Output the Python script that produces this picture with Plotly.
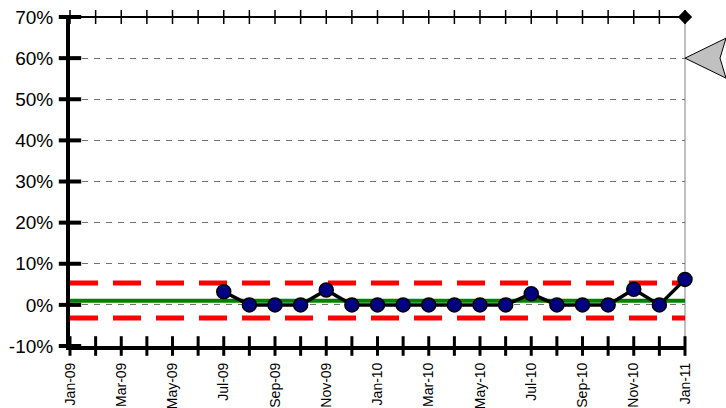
import plotly.graph_objects as go

months = ["Jan-09", "Feb-09", "Mar-09", "Apr-09", "May-09", "Jun-09", "Jul-09", "Aug-09",
          "Sep-09", "Oct-09", "Nov-09", "Dec-09", "Jan-10", "Feb-10", "Mar-10", "Apr-10",
          "May-10", "Jun-10", "Jul-10", "Aug-10", "Sep-10", "Oct-10", "Nov-10", "Dec-10", "Jan-11"]
data_months = months[6:]
values = [3.2, 0, 0, 0, 3.6, 0, 0, 0, 0, 0, 0, 0, 2.7, 0, 0, 0, 3.8, 0, 6.2]
center = 1.0
ucl = 5.3
lcl = -3.2
y_ticks = [-10, 0, 10, 20, 30, 40, 50, 60, 70]
y_labels = ["-10%", "0%", "10%", "20%", "30%", "40%", "50%", "60%", "70%"]
y_min, y_max = -10, 70

W, H = 726, 408
ml, mr, mt, mb = 70, 41, 17, 62
pw, ph = W - ml - mr, H - mt - mb

fig = go.Figure()

# control limits
for val, col, dash, wd in [(ucl, "#ff0000", "28px,15px", 5), (lcl, "#ff0000", "28px,15px", 5),
                           (center, "#008000", "solid", 4)]:
    fig.add_trace(go.Scatter(x=months, y=[val] * len(months), mode="lines",
                             line=dict(color=col, width=wd, dash=dash),
                             hoverinfo="skip"))

# data
fig.add_trace(go.Scatter(x=data_months, y=values, mode="lines+markers",
                         line=dict(color="black", width=3.5),
                         marker=dict(size=14, color="#000080", line=dict(color="black", width=1.5)),
                         cliponaxis=False))

# bottom axis cross ticks
fig.add_trace(go.Scatter(x=months, y=[y_min] * len(months), mode="markers",
                         marker=dict(symbol="line-ns", size=14, line=dict(color="black", width=3)),
                         cliponaxis=False, hoverinfo="skip"))
# top ticks
fig.add_trace(go.Scatter(x=months, y=[y_max] * len(months), mode="markers",
                         marker=dict(symbol="line-ns", size=10, line=dict(color="black", width=1.5)),
                         cliponaxis=False, hoverinfo="skip"))
# left axis cross ticks
fig.add_trace(go.Scatter(x=[months[0]] * len(y_ticks), y=y_ticks, mode="markers",
                         marker=dict(symbol="line-ew", size=16, line=dict(color="black", width=4)),
                         cliponaxis=False, hoverinfo="skip"))
# diamond at top right
fig.add_trace(go.Scatter(x=[months[-1]], y=[y_max], mode="markers",
                         marker=dict(symbol="diamond", size=11, color="black"),
                         cliponaxis=False, hoverinfo="skip"))

# top and right border lines
fig.add_shape(type="line", xref="paper", yref="paper", x0=0, x1=1, y0=1, y1=1,
              line=dict(color="black", width=2), layer="above")
fig.add_shape(type="line", xref="paper", yref="paper", x0=1, x1=1, y0=-0.01, y1=1,
              line=dict(color="#808080", width=1), layer="below")

# gray arrow marker at 60%
yp = (60 - y_min) / (y_max - y_min)
dy = 20 / ph
x_tip = 1.0
x_far = 1 + 41 / pw
x_notch = 1 + 35 / pw
path = (f"M {x_tip},{yp} L {x_far},{yp + dy} L {x_notch},{yp} "
        f"L {x_far},{yp - dy} Z")
fig.add_shape(type="path", xref="paper", yref="paper", path=path,
              fillcolor="#c0c0c0", line=dict(color="black", width=1), layer="above")

fig.update_layout(
    width=W, height=H,
    margin=dict(l=ml, r=mr, t=mt, b=mb, autoexpand=False),
    plot_bgcolor="white", paper_bgcolor="white",
    showlegend=False,
    font=dict(family="Arial, Liberation Sans", color="black"),
    xaxis=dict(type="category", categoryorder="array", categoryarray=months,
               range=[0, len(months) - 1], tickmode="array", tickvals=months[::2],
               ticktext=months[::2], tickangle=-90, tickfont=dict(size=14),
               ticks="", ticklabelstandoff=7, showgrid=False, zeroline=False,
               automargin=False,
               showline=True, linewidth=4, linecolor="black"),
    yaxis=dict(range=[y_min, y_max], tickmode="array", tickvals=y_ticks, ticktext=y_labels,
               tickfont=dict(size=19), ticks="", ticklabelstandoff=9, automargin=False,
               showgrid=True, gridcolor="#707070", gridwidth=1, griddash="6px,6px",
               zeroline=False, showline=True, linewidth=4, linecolor="black"),
)

fig.write_html("out.html", config={"displayModeBar": False},
               post_script="document.body.style.margin='0px';")
